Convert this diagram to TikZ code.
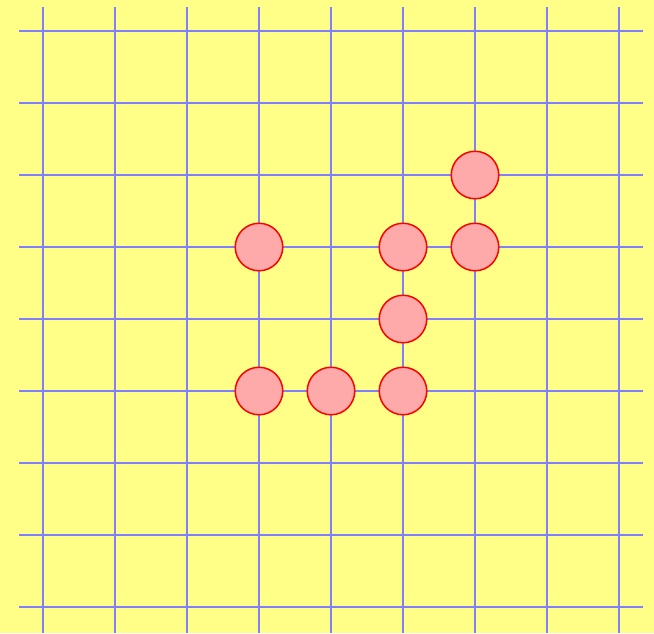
\documentclass[tikz,border=0pt]{standalone}
\definecolor{bgyellow}{RGB}{255,255,136}
\definecolor{gridblue}{RGB}{128,128,255}
\definecolor{stonepink}{RGB}{255,170,170}
\begin{document}
\begin{tikzpicture}[x=1pt,y=-1pt,
  gridline/.style={draw=gridblue,line width=2pt},
  stone/.style={circle,draw=red,fill=stonepink,line width=1.5pt,minimum size=47.5pt,inner sep=0pt}]
\fill[bgyellow] (0,0) rectangle (654,633);
\useasboundingbox (0,0) rectangle (654,633);
\foreach \i in {0,...,8}{
  \draw[gridline] (43+72*\i,7) -- (43+72*\i,633);
  \draw[gridline] (19,31+72*\i) -- (643,31+72*\i);
}
\node[stone] (s1) at (259,247) {};
\node[stone] (s2) at (403,247) {};
\node[stone] (s3) at (475,247) {};
\node[stone] (s4) at (475,175) {};
\node[stone] (s5) at (403,319) {};
\node[stone] (s6) at (259,391) {};
\node[stone] (s7) at (331,391) {};
\node[stone] (s8) at (403,391) {};
\end{tikzpicture}
\end{document}
